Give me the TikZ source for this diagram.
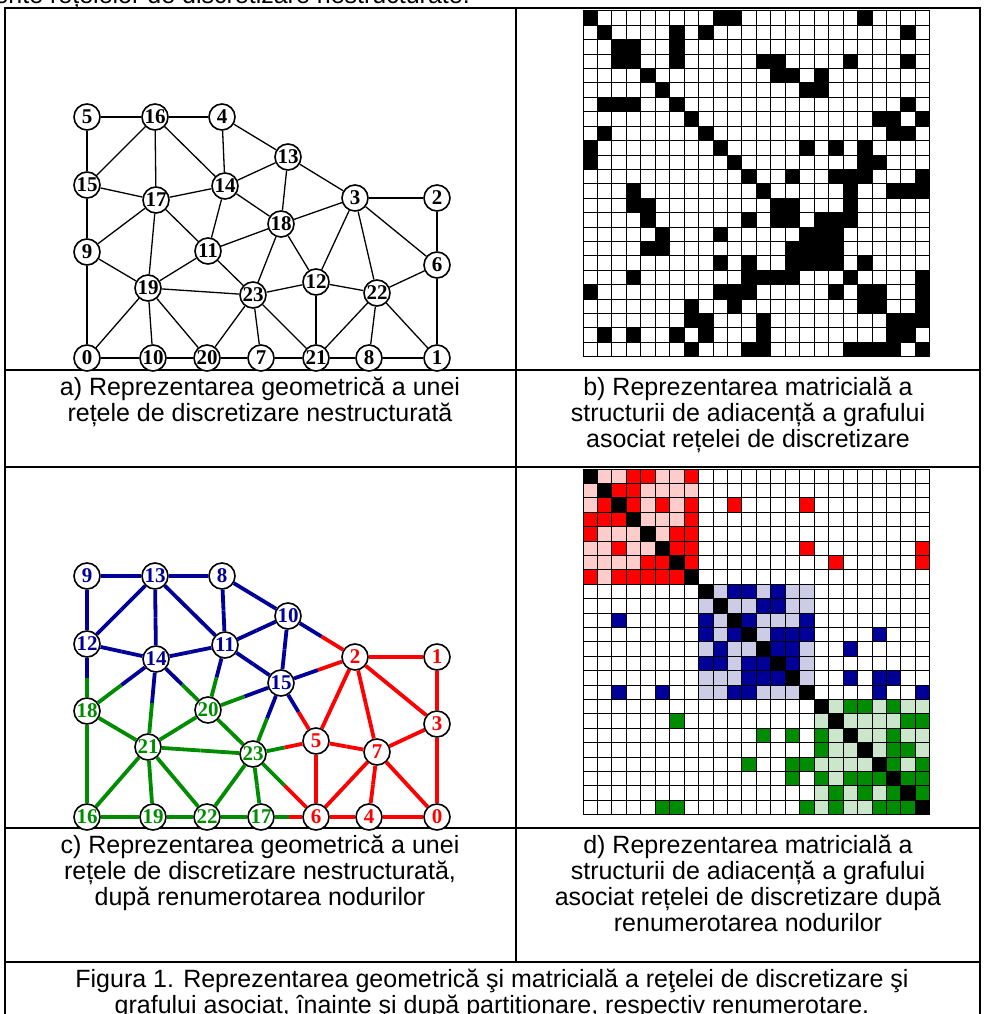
\documentclass[tikz,border=0pt]{standalone}
\usepackage{fontspec}
\setmainfont{Liberation Sans}
\newfontfamily\numfont{Liberation Serif Bold}
\usetikzlibrary{calc}

\definecolor{part0}{RGB}{255,0,0}
\definecolor{part1}{RGB}{0,0,153}
\definecolor{part2}{RGB}{0,140,0}
\definecolor{light0}{RGB}{255,204,204}
\definecolor{light1}{RGB}{204,204,230}
\definecolor{light2}{RGB}{204,230,204}

\tikzset{
  vert/.style={draw, circle, fill=white, line width=1.6pt, inner sep=0pt,
    minimum size=26pt, font=\numfont\fontsize{21}{21}\selectfont},
  edgea/.style={line width=1.3pt},
  edgec/.style={line width=3.8pt},
  frame/.style={line width=2pt},
  caption/.style={align=center, inner sep=0pt, font=\fontsize{25}{26}\selectfont},
  gridline/.style={line width=1pt}
}

% edges of the mesh (old numbering)
\newcommand{\meshedges}{5/16, 16/4, 5/15, 16/15, 16/17, 16/14, 4/14, 4/13,
  13/14, 13/18, 13/3, 15/17, 15/9, 17/14, 17/9, 17/11, 17/19, 14/11, 14/18,
  18/3, 3/2, 2/6, 3/6, 18/11, 18/23, 18/12, 3/12, 3/22, 11/19, 11/23, 9/19,
  9/0, 19/23, 19/0, 19/10, 19/20, 23/20, 23/7, 23/12, 23/21, 12/22, 12/21,
  22/6, 22/8, 22/1, 22/21, 6/1, 0/10, 10/20, 20/7, 7/21, 21/8, 8/1}
% new number of each old node
\newcommand{\relabel}{{16,0,1,2,8,9,3,17,4,18,19,20,5,10,11,12,13,14,15,21,22,6,7,23}}
% node positions
\newcommand{\meshnodes}{0/87/358, 1/437/358, 2/437/198, 3/355/198, 4/222/117,
  5/87/117, 6/437/265, 7/261/358, 8/369/358, 9/87/252, 10/153/358,
  11/208/251, 12/316/282, 13/288/157, 14/225/186, 15/87/185, 16/155/117,
  17/156/200, 18/281/224, 19/148/288, 20/207/358, 21/316/358, 22/377/293,
  23/253/295}

\begin{document}
\begin{tikzpicture}[x=1pt, y=-1pt]
  \useasboundingbox (0,0) rectangle (983,1014);
  \clip (0,0) rectangle (983,1014);

  % Line above, cut by the page
  \node[anchor=base east, inner sep=0pt, font=\fontsize{25}{26}\selectfont]
    (toptext) at (470,4) {ente rețelelor de discretizare nestructurate.};

  % Table
  \draw[frame] (5,8.3) rectangle (980,1030);
  \draw[frame] (5,370) -- (980,370);
  \draw[frame] (5,467) -- (980,467);
  \draw[frame] (5,828) -- (980,828);
  \draw[frame] (5,962) -- (980,962);
  \draw[frame] (516,8.3) -- (516,962);

  % a) mesh
  \foreach \n/\x/\y in \meshnodes
    \node[vert] (a\n) at (\x,\y) {\n};
  \foreach \p/\q in \meshedges
    \draw[edgea] (a\p) -- (a\q);

  % c) mesh after renumbering
  \foreach \n/\x/\y in \meshnodes {
    \pgfmathtruncatemacro\m{\relabel[\n]}
    \pgfmathtruncatemacro\k{\m/8}
    \node[vert, text=part\k] (c\n) at (\x,\y+459) {\m};
  }
  \foreach \p/\q in \meshedges {
    \pgfmathtruncatemacro\kp{\relabel[\p]/8}
    \pgfmathtruncatemacro\kq{\relabel[\q]/8}
    \draw[edgec, part\kp] (c\p) -- ($(c\p)!0.5!(c\q)$);
    \draw[edgec, part\kq] ($(c\p)!0.5!(c\q)$) -- (c\q);
  }

  % b) adjacency matrix
  \begin{scope}[shift={(583,11)}, x=14.45pt, y=-14.4pt]
    \foreach \i in {0,...,23}
      \fill (\i,\i) rectangle ++(1,1);
    \foreach \p/\q in \meshedges {
      \fill (\p,\q) rectangle ++(1,1);
      \fill (\q,\p) rectangle ++(1,1);
    }
    \foreach \i in {0,...,24} {
      \draw[gridline] (\i,0) -- (\i,24);
      \draw[gridline] (0,\i) -- (24,\i);
    }
  \end{scope}

  % d) adjacency matrix after renumbering
  \begin{scope}[shift={(583,469)}, x=14.45pt, y=-14.4pt]
    \foreach \k in {0,1,2}
      \fill[light\k] (8*\k,8*\k) rectangle ++(8,8);
    \foreach \i in {0,...,23}
      \fill (\i,\i) rectangle ++(1,1);
    \foreach \p/\q in \meshedges {
      \pgfmathtruncatemacro\a{\relabel[\p]}
      \pgfmathtruncatemacro\b{\relabel[\q]}
      \pgfmathtruncatemacro\ka{\a/8}
      \pgfmathtruncatemacro\kb{\b/8}
      \fill[part\ka] (\b,\a) rectangle ++(1,1);
      \fill[part\kb] (\a,\b) rectangle ++(1,1);
    }
    \foreach \i in {0,...,24} {
      \draw[gridline] (\i,0) -- (\i,24);
      \draw[gridline] (0,\i) -- (24,\i);
    }
  \end{scope}

  % Captions
  \node[caption, anchor=north] (capa) at (260,377)
    {a) Reprezentarea geometrică a unei\\rețele de discretizare nestructurată};
  \node[caption, anchor=north] (capb) at (748,377)
    {b) Reprezentarea matricială a\\structurii de adiacență a grafului\\asociat rețelei de discretizare};
  \node[caption, anchor=north] (capc) at (260,835)
    {c) Reprezentarea geometrică a unei\\rețele de discretizare nestructurată,\\după renumerotarea nodurilor};
  \node[caption, anchor=north] (capd) at (748,835)
    {d) Reprezentarea matricială a\\structurii de adiacență a grafului\\asociat rețelei de discretizare după\\renumerotarea nodurilor};
  \node[caption, anchor=north] (figcap) at (492,969)
    {Figura 1. Reprezentarea geometrică şi matricială a reţelei de discretizare şi\\grafului asociat, înainte şi după partiţionare, respectiv renumerotare.};
\end{tikzpicture}
\end{document}
